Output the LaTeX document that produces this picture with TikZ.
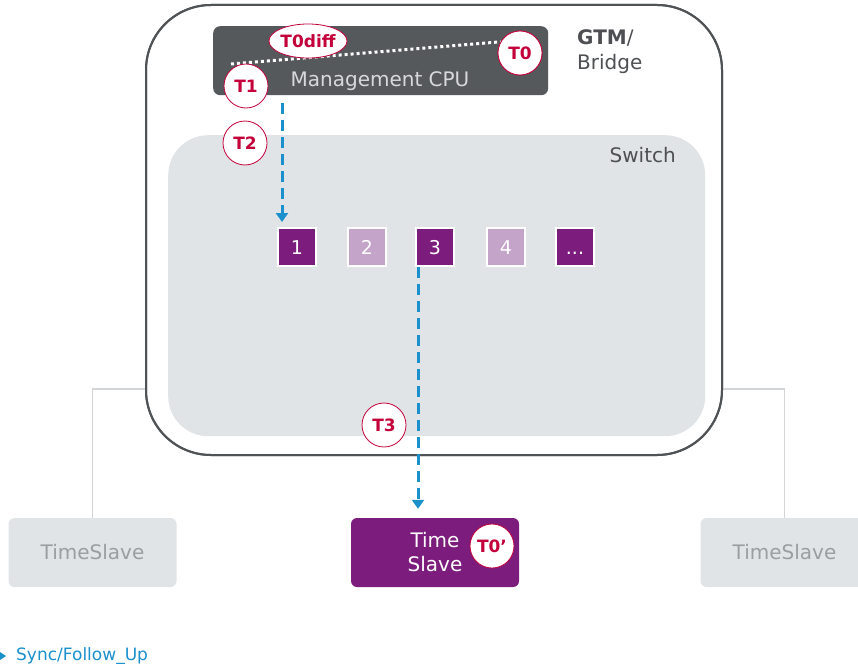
\documentclass[tikz,border=0pt]{standalone}
\usepackage{fontspec}
\setmainfont{DejaVu Sans}
\usetikzlibrary{arrows.meta,shapes.geometric}
\definecolor{outline}{HTML}{505356}
\definecolor{swgray}{HTML}{E1E4E7}
\definecolor{cpugray}{HTML}{56595C}
\definecolor{dpurple}{HTML}{7C1D7D}
\definecolor{lpurple}{HTML}{C4A4C8}
\definecolor{crim}{HTML}{C3003A}
\definecolor{syncblue}{HTML}{1A90CC}
\definecolor{conngray}{HTML}{D3D6D9}
\definecolor{tsgray}{HTML}{9A9EA2}
\definecolor{cputext}{HTML}{D8D9DA}
\definecolor{labgray}{HTML}{4D4F52}
\tikzset{
  port/.style={rectangle, minimum size=38pt, inner sep=0pt, draw=white, line width=2pt, text=white, text height=14pt, text depth=0pt, font=\fontsize{19pt}{22pt}\selectfont},
  tmark/.style={circle, minimum size=44pt, inner sep=0pt, fill=white, draw=crim, line width=0.8pt, text=crim, font=\bfseries\fontsize{17pt}{20pt}\selectfont},
  syncarrow/.style={draw=syncblue, line width=3pt, dash pattern=on 11pt off 6pt, -{Triangle[width=12pt,length=9pt]}},
  conn/.style={draw=conngray, line width=1.5pt},
  slavebox/.style={rectangle, rounded corners=6pt, minimum width=168pt, minimum height=69pt, inner sep=0pt, fill=swgray, text=tsgray, font=\fontsize{20pt}{24pt}\selectfont},
  lbl/.style={inner sep=0pt, font=\fontsize{20pt}{24pt}\selectfont}
}
\begin{document}
\begin{tikzpicture}[x=1pt,y=-1pt]
\useasboundingbox (0,0) rectangle (858,666);
% outer GTM/Bridge box
\node[draw=outline, line width=2pt, rounded corners=65pt, minimum width=576pt, minimum height=450pt, inner sep=0pt, outer sep=0pt, anchor=north west] (gtm) at (146,5) {};
% time slaves
\node[slavebox] (tsl) at (92.5,552.5) {TimeSlave};
\node[slavebox] (tsr) at (784.5,552.5) {TimeSlave};
\node[slavebox, fill=dpurple, text=white, align=center] (ts) at (435,552.5) {Time\\Slave};
% gray connectors
\coordinate (lvl) at (0,389);
\draw[conn] (tsl.north) -- (tsl.north |- lvl) -- (lvl -| gtm.west);
\draw[conn] (tsr.north) -- (tsr.north |- lvl) -- (lvl -| gtm.east);
% redraw outer outline on top of connectors
\node[draw=outline, line width=2pt, rounded corners=65pt, minimum width=576pt, minimum height=450pt, inner sep=0pt, outer sep=0pt, anchor=north west] at (146,5) {};
% switch
\node[fill=swgray, rounded corners=40pt, minimum width=537pt, minimum height=301pt, inner sep=0pt, anchor=north west] (sw) at (168,135) {};
\node[lbl, text=labgray, anchor=base east] (swl) at (676,162) {Switch};
% CPU
\node[fill=cpugray, rounded corners=7pt, minimum width=335pt, minimum height=69pt, inner sep=0pt, anchor=north west] (cpu) at (213,26) {};
\node[lbl, text=cputext, anchor=base] (cpul) at (380,87) {Management CPU};
% GTM label
\node[lbl, text=labgray, anchor=base west] (gtml) at (577,45) {\textbf{GTM}/};
\node[lbl, text=labgray, anchor=base west] (brl) at (577,70) {Bridge};
% ports
\node[port, fill=dpurple] (p1) at (297,247) {1};
\node[port, fill=lpurple] (p2) at (367,247) {2};
\node[port, fill=dpurple] (p3) at (435,247) {3};
\node[port, fill=lpurple] (p4) at (506,247) {4};
\node[port, fill=dpurple] (p5) at (575,247) {...};
% marks
\node[tmark] (t0) at (520,53) {T0};
\coordinate (dls) at (231,64);
\draw[white, line width=3pt, dash pattern=on 3pt off 3pt] (dls) -- (t0.150);
\node[tmark] (t0) at (520,53) {T0};
\node[tmark, ellipse, minimum width=76pt, minimum height=34pt] (t0d) at (308,41) {T0diff};
\node[tmark] (t1) at (246,86) {T1};
\node[tmark] (t2) at (245,143) {T2};
\node[tmark] (t3) at (384,425) {T3};
\node[tmark] (t0p) at (492,546) {T0'};
% sync arrows
\coordinate (a1s) at (282,103);
\draw[syncarrow, shorten >=5pt] (a1s) -- (a1s |- p1.north);
\coordinate (a2x) at (418,0);
\draw[syncarrow, shorten >=9pt] (a2x |- p3.south) -- (a2x |- ts.north);
% legend
\coordinate (lg) at (0,656);
\fill[syncblue] (lg) ++(0,-4) -- ++(6,4) -- ++(-6,4) -- cycle;
\node[inner sep=0pt, anchor=west, text=syncblue, font=\fontsize{17pt}{20pt}\selectfont] (lgt) at (16,656) {Sync/Follow\_Up};
\end{tikzpicture}
\end{document}
